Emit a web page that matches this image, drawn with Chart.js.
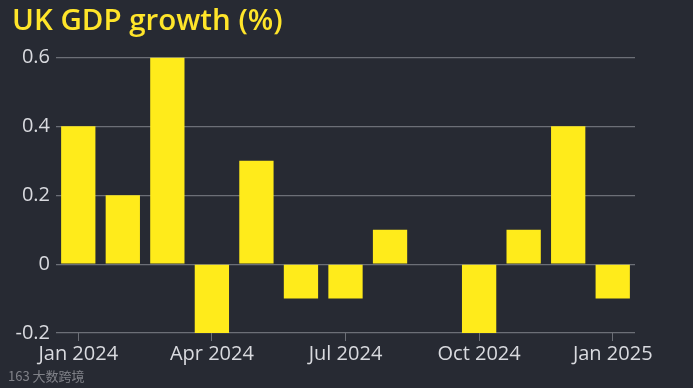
<!DOCTYPE html>
<html>
<head>
<meta charset="utf-8">
<script src="https://cdn.jsdelivr.net/npm/chart.js@4/dist/chart.umd.min.js"></script>
<style>
  html, body { margin: 0; padding: 0; background: #272a33; }
  #wrap { position: relative; width: 693px; height: 388px; }
  #mark {
    position: absolute; left: 8px; top: 366px;
    font: 13px "Noto Sans CJK SC", "Noto Sans", sans-serif;
    color: rgba(200, 200, 205, 0.55);
  }
</style>
</head>
<body>
<div id="wrap">
  <canvas id="gdpChart"></canvas>
  <div id="mark">163 大数跨境</div>
</div>
<script>
// ---- data ----
const months = [
  'Jan 2024', 'Feb 2024', 'Mar 2024', 'Apr 2024', 'May 2024', 'Jun 2024', 'Jul 2024',
  'Aug 2024', 'Sep 2024', 'Oct 2024', 'Nov 2024', 'Dec 2024', 'Jan 2025'
];
const growth = [0.4, 0.2, 0.6, -0.2, 0.3, -0.1, -0.1, 0.1, 0, -0.2, 0.1, 0.4, -0.1];
const yTicks = [-0.2, 0, 0.2, 0.4, 0.6];

// ---- colours ----
const textColor = '#d9dadf';
const gridColor = '#6c6f77';
const barColor = '#ffeb1b';
const titleColor = '#ffe52a';
const fontFamily = '"Open Sans", "Noto Sans", sans-serif';

const ctx = document.getElementById('gdpChart').getContext('2d');

new Chart(ctx, {
  type: 'bar',
  data: {
    labels: months,
    datasets: [{
      data: growth,
      backgroundColor: barColor,
      borderWidth: 0,
      categoryPercentage: 1,
      barPercentage: 0.77
    }]
  },
  options: {
    responsive: true,
    maintainAspectRatio: false,
    animation: false,
    layout: { padding: { left: 12, right: 58, top: 0, bottom: 21 } },
    plugins: {
      legend: { display: false },
      tooltip: { enabled: false },
      title: {
        display: true,
        text: 'UK GDP growth (%)',
        align: 'start',
        color: titleColor,
        font: { family: fontFamily, size: 29.5, weight: '600' },
        padding: { top: 4, bottom: 18 }
      }
    },
    scales: {
      x: {
        grid: {
          offset: false,
          drawOnChartArea: false,
          tickLength: 8,
          // only the quarterly ticks get a mark
          color: c => (c.index % 3 === 0 ? gridColor : 'transparent')
        },
        border: { display: false },
        ticks: {
          autoSkip: false,
          maxRotation: 0,
          padding: 1,
          color: textColor,
          font: { family: fontFamily, size: 20 },
          callback: (v, i) => (i % 3 === 0 ? months[i] : '')
        }
      },
      y: {
        min: -0.2,
        max: 0.6,
        afterBuildTicks: s => { s.ticks = yTicks.map(v => ({ value: v })); },
        afterFit: s => { s.width = 44; },
        grid: { color: gridColor, drawTicks: false, lineWidth: 1.2 },
        border: { display: false },
        ticks: {
          padding: 6,
          color: textColor,
          font: { family: fontFamily, size: 20 },
          callback: v => (Math.abs(v) < 1e-9 ? '0' : String(Math.round(v * 10) / 10))
        }
      }
    }
  }
});
</script>
</body>
</html>
